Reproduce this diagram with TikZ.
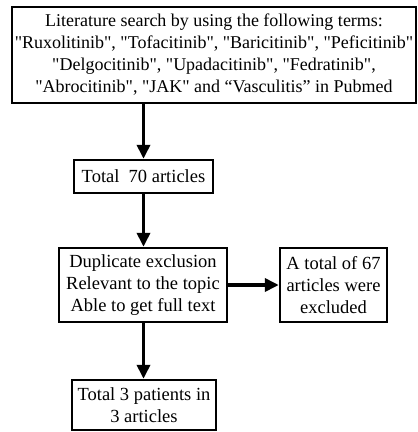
\documentclass[tikz,border=0pt]{standalone}
\usepackage{fontspec}
\setmainfont{Liberation Serif}[Ligatures=TeXOff]
\usetikzlibrary{arrows.meta}
\begin{document}
\begin{tikzpicture}[x=1bp,y=-1bp,
  box/.style={draw,line width=2.4bp,inner sep=0pt,align=center,
    font=\fontsize{18.5bp}{22bp}\selectfont},
  arr/.style={line width=3.6bp,-{Triangle[length=14bp,width=13bp]}}]
\useasboundingbox (0,0) rectangle (418,432);
\node[box,minimum width=404bp,minimum height=96bp,
  font=\fontsize{18bp}{22bp}\selectfont] (search) at (214,55)
  {Literature search by using the following terms:\\
   "Ruxolitinib", "Tofacitinib", "Baricitinib", "Peficitinib"\\
   "Delgocitinib", "Upadacitinib", "Fedratinib",\\
   "Abrocitinib", "JAK" and “Vasculitis” in Pubmed};
\node[box,minimum width=139bp,minimum height=33bp] (total) at (143.5,176.5)
  {Total\ \ 70 articles};
\node[box,minimum width=168bp,minimum height=74bp] (dup) at (143,285)
  {Duplicate exclusion\\Relevant to the topic\\Able to get full text};
\node[box,minimum width=107bp,minimum height=74bp] (excl) at (333.5,285)
  {A total of 67\\articles were\\excluded};
\node[box,minimum width=144bp,minimum height=50bp] (final) at (144,405)
  {Total 3 patients in\\3 articles};
\draw[arr] (search.south -| total.north) -- (total.north);
\draw[arr] (total.south) -- (total.south |- dup.north);
\draw[arr] (dup.east) -- (excl.west);
\draw[arr] (total.south |- dup.south) -- (total.south |- final.north);
\end{tikzpicture}
\end{document}
